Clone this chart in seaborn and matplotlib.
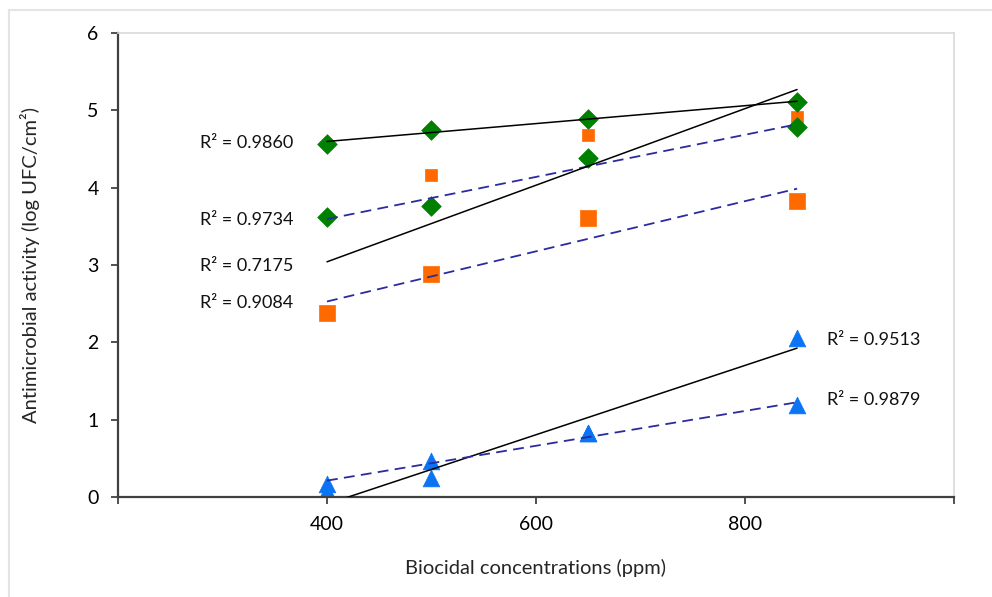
import pandas as pd
import matplotlib.pyplot as plt
import seaborn as sns

# values
conc = [400, 500, 650, 850]
green_a = [4.57, 4.75, 4.89, 5.11]
green_b = [3.62, 3.77, 4.39, 4.78]
orange_a = [2.38, 4.16, 4.68, 4.91]
orange_b = [2.38, 2.89, 3.61, 3.83]
blue_a = [0.08, 0.25, 0.83, 2.06]
blue_b = [0.17, 0.46, 0.83, 1.19]
r2_labels = ["R² = 0.9860", "R² = 0.9734", "R² = 0.7175",
             "R² = 0.9084", "R² = 0.9513", "R² = 0.9879"]
x_ticks = [200, 400, 600, 800, 1000]
x_ticklabels = ["", "400", "600", "800", ""]

sns.set_theme(style="white")
plt.rcParams['font.family'] = ['Lato', 'DejaVu Sans']

GREEN = "#008000"
ORANGE = "#FF6A00"
BLUE = "#0A74F5"
NAVY = "#2B2BA0"

fig = plt.figure(figsize=(9.92, 5.97), dpi=100)
ax = fig.add_axes([0.119, 0.1675, 0.8425, 0.777])

# outer light frame
fig.add_artist(plt.Rectangle((9 / 992, -0.05), 1.1, 1 - 10 / 597 + 0.05,
                             transform=fig.transFigure, fill=False,
                             edgecolor="#E4E4E4", lw=1.5))

# markers: orange first (partly hidden behind green), then green, blue
series = [
    (orange_a, "s", ORANGE, 85),
    (orange_b, "s", ORANGE, 135),
    (green_a, "D", GREEN, 100),
    (green_b, "D", GREEN, 100),
    (blue_a, "^", BLUE, 145),
    (blue_b, "^", BLUE, 145),
]
for vals, mk, col, size in series:
    df = pd.DataFrame({"conc": conc, "act": vals})
    sns.scatterplot(data=df, x="conc", y="act", marker=mk, color=col,
                    s=size, edgecolor=col, linewidth=0.5, ax=ax, zorder=2)

# linear trendlines (solid and dashed)
fits = [
    (green_a, "-", "black", 1.1),
    (green_b, (0, (6, 3.5)), NAVY, 1.3),
    (orange_a, "-", "black", 1.1),
    (orange_b, (0, (6, 3.5)), NAVY, 1.3),
    (blue_a, "-", "black", 1.1),
    (blue_b, (0, (6, 3.5)), NAVY, 1.3),
]
for vals, ls, col, lw in fits:
    sns.regplot(x=conc, y=vals, scatter=False, ci=None, truncate=True,
                line_kws=dict(color=col, lw=lw, ls=ls, zorder=3), ax=ax)

# R² annotations
r2_pos = [(278, 4.58), (278, 3.58), (278, 2.99), (278, 2.51), (879, 2.03), (879, 1.25)]
for txt, (xx, yy) in zip(r2_labels, r2_pos):
    ax.text(xx, yy, txt, fontsize=13, va="center", ha="left", color="#111111")

ax.set_xlim(200, 1000)
ax.set_ylim(0, 6)
ax.set_xticks(x_ticks)
ax.set_xticklabels(x_ticklabels)
ax.set_yticks(range(0, 7))
ax.tick_params(axis="both", direction="out", length=5, width=1.2,
               colors="#333333", labelsize=14, labelcolor="black", pad=9,
               left=True, bottom=True)

for side in ["left", "bottom"]:
    ax.spines[side].set_color("#404040")
    ax.spines[side].set_linewidth(1.6)
for side in ["top", "right"]:
    ax.spines[side].set_color("#D9D9D9")
    ax.spines[side].set_linewidth(1.2)

ax.set_xlabel("Biocidal concentrations (ppm)", fontsize=14.5, labelpad=18)
ax.set_ylabel("Antimicrobial activity (log UFC/cm²)", fontsize=14.5)
ax.yaxis.set_label_coords(-0.093, 0.5)

plt.savefig("out.png", dpi=100)
